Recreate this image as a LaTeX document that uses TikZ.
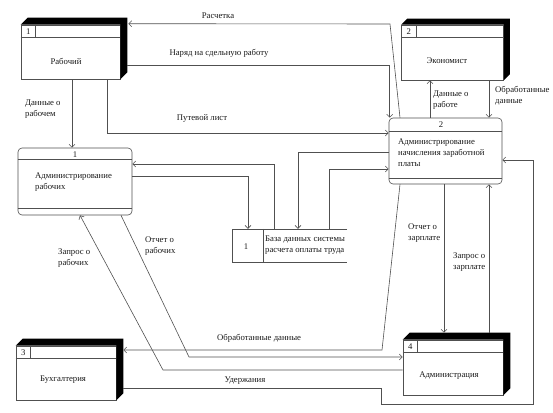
\documentclass[tikz,border=0pt]{standalone}
\usepackage{fontspec}
\setmainfont{Liberation Serif}
\usetikzlibrary{arrows.meta,calc}
\definecolor{ln}{RGB}{80,80,80}
\definecolor{tx}{RGB}{25,25,25}
\tikzset{
  ent/.style={draw=ln, line width=0.6pt, fill=white, minimum width=#1, inner sep=0pt},
  proc/.style={draw=ln, line width=0.6pt, rounded corners=4pt, inner sep=0pt},
  lbl/.style={text=tx, font=\fontsize{8.7}{11}\selectfont, inner sep=0pt},
  lbll/.style={lbl, anchor=west, align=left},
  flow/.style={draw=ln, line width=0.6pt, -{Straight Barb[length=3pt,width=6pt]}},
  plain/.style={draw=ln, line width=0.6pt},
}
\newcommand{\extrude}[2]{%
  \fill[black] (#1.north west) -- ++(#2,-#2) -- ($(#1.north east)+(#2,-#2)$)
    -- ($(#1.south east)+(#2,-#2)$) -- (#1.south east) -- (#1.north east) -- cycle;
  \draw[plain] ($(#1.north west)+(0,13)$) -- ($(#1.north east)+(0,13)$);
  \draw[plain] ($(#1.north west)+(15,0)$) -- ++(0,13);
}
\begin{document}
\begin{tikzpicture}[x=1pt,y=-1pt]
\useasboundingbox (0,0) rectangle (553,412);
% external entities
\node[ent=99pt, minimum height=54pt] (rab) at (70.5,52) {};
\node[ent=102pt, minimum height=55pt] (eko) at (452.5,52.5) {};
\node[ent=100pt, minimum height=54pt] (buh) at (66,373) {};
\node[ent=100pt, minimum height=55pt] (adm) at (453,367.5) {};
\extrude{rab}{7}
\extrude{eko}{6}
\extrude{buh}{7}
\extrude{adm}{7}
\node[lbl] at ($(rab.north west)+(7.5,7)$) {1};
\node[lbl] at ($(eko.north west)+(7.5,7)$) {2};
\node[lbl] at ($(buh.north west)+(7.5,7)$) {3};
\node[lbl] at ($(adm.north west)+(7.5,7)$) {4};
\node[lbl] at (66,61) {Рабочий};
\node[lbl] at (447,61) {Экономист};
\node[lbl] at (63,380) {Бухгалтерия};
\node[lbl] at (449,376) {Администрация};
% processes
\node[proc, minimum width=114pt, minimum height=67pt] (p1) at (75,181.5) {};
\draw[plain] ($(p1.north west)+(0,12)$) -- ($(p1.north east)+(0,12)$);
\draw[plain] ($(p1.south west)+(0,-7)$) -- ($(p1.south east)+(0,-7)$);
\node[lbl] at (75,155) {1};
\node[lbll] at (35,182.5) {Администрирование\\рабочих};
\node[proc, minimum width=113pt, minimum height=66pt] (p2) at (445.5,151) {};
\draw[plain] ($(p2.north west)+(0,14)$) -- ($(p2.north east)+(0,14)$);
\draw[plain] ($(p2.south west)+(0,-6)$) -- ($(p2.south east)+(0,-6)$);
\node[lbl] at (441,125) {2};
\node[lbll] at (398,153) {Администрирование\\начисления заработной\\платы};
% data store
\node[minimum width=115pt, minimum height=33pt, inner sep=0pt] (ds) at (289.5,245.5) {};
\draw[plain] (ds.north east) -- (ds.north west) -- (ds.south west) -- (ds.south east);
\draw[plain] ($(ds.north west)+(31,0)$) -- ($(ds.south west)+(31,0)$);
\node[lbl] at (246,247) {1};
\node[lbll] at (265,245.5) {База данных системы\\расчета оплаты труда};
% connectors
\draw[flow] (p2.north -| 400,0) -- (390,24) -- ($(rab.north east)+(8,-1)$);
\node[lbl] at (218,16) {Расчетка};
\draw[flow] ($(rab.east)+(7,13)$) -| ($(p2.north west)+(1,0)$);
\node[lbl] at (219,53) {Наряд на сдельную работу};
\draw[flow] (rab.south -| 107,0) |- (p2.west |- 0,133);
\node[lbl] at (202,118) {Путевой лист};
\draw[flow] (rab.south -| 72,0) -- (p1.north -| 72,0);
\node[lbll] at (25,109.5) {Данные о\\рабочем};
\draw[flow] (p2.north -| 430,0) -- (eko.south -| 430,0);
\node[lbll] at (433,100) {Данные о\\работе};
\draw[flow] (eko.south -| 489,0) -- (p2.north -| 489,0);
\node[lbll] at (495,95.5) {Обработанные\\данные};
\draw[flow] (ds.north -| 274,0) |- (p1.east |- 0,164);
\draw[flow] (p1.east |- 0,176) -| (ds.north -| 248,0);
\draw[flow] (p2.west |- 0,152) -| (ds.north -| 298,0);
\draw[flow] (ds.north -| 329,0) |- (p2.west |- 0,169);
\draw[flow] (p2.south -| 444,0) -- ($(adm.north -| 444,0)+(0,-7)$);
\node[lbll] at (408,233.5) {Отчет о\\зарплате};
\draw[flow] ($(adm.north -| 489,0)+(0,-7)$) -- (p2.south -| 489,0);
\node[lbll] at (453,262.5) {Запрос о\\зарплате};
\draw[flow] (p2.south -| 400,0) -- (382,350) -- ($(buh.east |- 0,350)+(7,0)$);
\node[lbll] at (217,338) {Обработанные данные};
\draw[flow] (p1.south -| 121,0) -- (189,357) -- (adm.west |- 0,357);
\node[lbll] at (145,246) {Отчет о\\рабочих};
\draw[flow] (adm.west |- 0,370) -- (163,370) -- (p1.south -| 80,0);
\node[lbll] at (58,258.5) {Запрос о\\рабочих};
\draw[flow] ($(buh.east |- 0,388)+(7,0)$) -- (381,388) -- (381,404) -- (533,404) -- (533,160) -- (p2.east |- 0,160);
\node[lbl] at (245,381) {Удержания};
\end{tikzpicture}
\end{document}
